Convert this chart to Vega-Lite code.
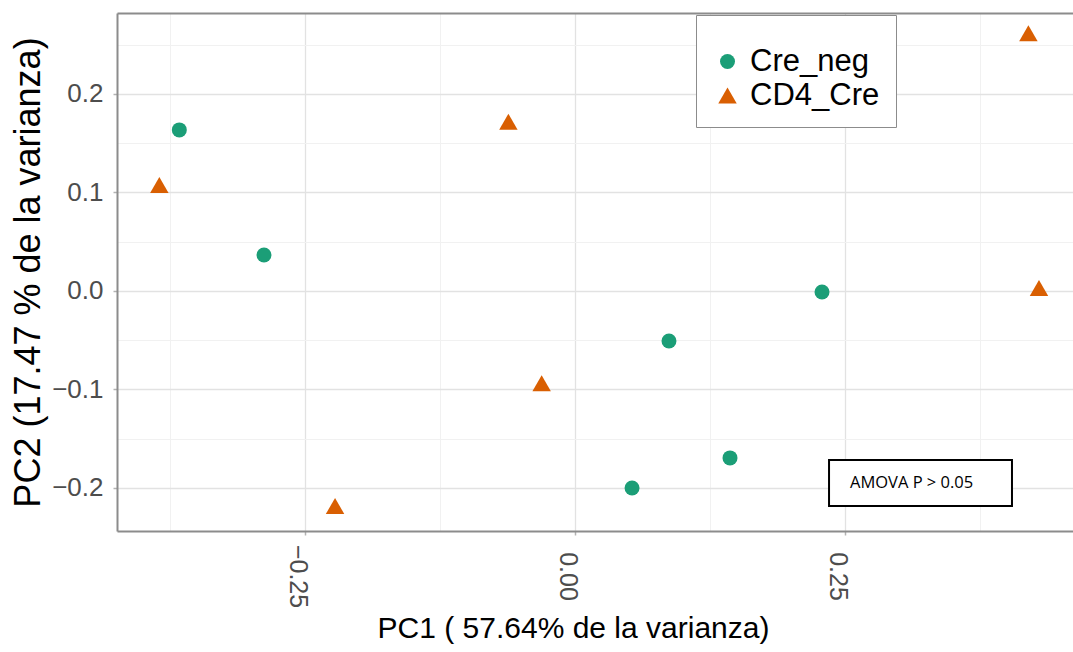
{
  "$schema": "https://vega.github.io/schema/vega-lite/v6.json",
  "width": 956,
  "height": 518,
  "autosize": {"type": "none"},
  "padding": {"left": 117, "top": 13, "right": 0, "bottom": 121},
  "background": "white",
  "config": {"view": {"stroke": null}, "font": "Liberation Sans"},
  "datasets": {
    "pts": [
      {"PC1": -0.3664, "PC2": 0.1635, "grupo": "Cre_neg"},
      {"PC1": -0.288, "PC2": 0.0365, "grupo": "Cre_neg"},
      {"PC1": 0.087, "PC2": -0.0508, "grupo": "Cre_neg"},
      {"PC1": 0.2287, "PC2": -0.001, "grupo": "Cre_neg"},
      {"PC1": 0.1435, "PC2": -0.1695, "grupo": "Cre_neg"},
      {"PC1": 0.0528, "PC2": -0.2, "grupo": "Cre_neg"},
      {"PC1": -0.3849, "PC2": 0.1076, "grupo": "CD4_Cre"},
      {"PC1": -0.2222, "PC2": -0.2183, "grupo": "CD4_Cre"},
      {"PC1": -0.0617, "PC2": 0.1719, "grupo": "CD4_Cre"},
      {"PC1": -0.0309, "PC2": -0.0937, "grupo": "CD4_Cre"},
      {"PC1": 0.4198, "PC2": 0.2616, "grupo": "CD4_Cre"},
      {"PC1": 0.4296, "PC2": 0.003, "grupo": "CD4_Cre"}
    ],
    "box": [
      {"PC1": 0.2352, "PC1_end": 0.4046, "PC2": -0.1716, "PC2_end": -0.2183}
    ],
    "note": [
      {"PC1": 0.2546, "PC2": -0.1949, "label": "AMOVA P > 0.05"}
    ]
  },
  "layer": [
    {
      "data": {"name": "pts"},
      "mark": {"type": "point", "filled": true, "opacity": 1, "strokeWidth": 0},
      "encoding": {
        "x": {
          "field": "PC1", "type": "quantitative",
          "scale": {"domain": [-0.4241, 0.4611], "nice": false, "zero": false},
          "axis": {
            "orient": "bottom",
            "values": [-0.375, -0.25, -0.125, 0, 0.125, 0.25, 0.375],
            "labelExpr": "abs(datum.value*4 - round(datum.value*4)) < 0.001 ? format(datum.value, '.2f') : ''",
            "labelAngle": 90,
            "labelAlign": "center",
            "labelBaseline": "middle",
            "labelPadding": 41,
            "labelOffset": -8,
            "labelOverlap": false,
            "labelFlush": false,
            "labelFontSize": 25,
            "labelColor": "#4D4D4D",
            "labelFont": "Liberation Sans",
            "tickSize": 4,
            "tickWidth": 1.5,
            "tickColor": "#B3B3B3",
            "tickOpacity": {"condition": {"test": "abs(datum.value*4 - round(datum.value*4)) < 0.001", "value": 1}, "value": 0},
            "grid": true,
            "gridColor": {"condition": {"test": "abs(datum.value*4 - round(datum.value*4)) < 0.001", "value": "#E2E2E2"}, "value": "#F1F1F1"},
            "gridWidth": {"condition": {"test": "abs(datum.value*4 - round(datum.value*4)) < 0.001", "value": 1.3}, "value": 1},
            "domain": true,
            "domainColor": "#8C8C8C",
            "domainWidth": 2,
            "title": "PC1 ( 57.64% de la varianza)",
            "titleFont": "Liberation Sans",
            "titleFontSize": 30,
            "titleFontWeight": "normal",
            "titleColor": "#000000",
            "titlePadding": 6,
            "titleX": 456
          }
        },
        "y": {
          "field": "PC2", "type": "quantitative",
          "scale": {"domain": [-0.2437, 0.2822], "nice": false, "zero": false},
          "axis": {
            "values": [-0.2, -0.15, -0.1, -0.05, 0, 0.05, 0.1, 0.15, 0.2, 0.25],
            "labelExpr": "abs(datum.value*10 - round(datum.value*10)) < 0.001 ? format(datum.value, '.1f') : ''",
            "labelOverlap": false,
            "labelFlush": false,
            "labelPadding": 10,
            "labelFontSize": 26,
            "labelColor": "#4D4D4D",
            "labelFont": "Liberation Sans",
            "tickSize": 4,
            "tickWidth": 1.5,
            "tickColor": "#B3B3B3",
            "tickOpacity": {"condition": {"test": "abs(datum.value*10 - round(datum.value*10)) < 0.001", "value": 1}, "value": 0},
            "grid": true,
            "gridColor": {"condition": {"test": "abs(datum.value*10 - round(datum.value*10)) < 0.001", "value": "#E2E2E2"}, "value": "#F1F1F1"},
            "gridWidth": {"condition": {"test": "abs(datum.value*10 - round(datum.value*10)) < 0.001", "value": 1.3}, "value": 1},
            "domain": true,
            "domainColor": "#8C8C8C",
            "domainWidth": 2,
            "title": "PC2 (17.47 % de la varianza)",
            "titleFont": "Liberation Sans",
            "titleFontSize": 36,
            "titleFontWeight": "normal",
            "titleColor": "#000000",
            "titlePadding": 4
          }
        },
        "color": {
          "field": "grupo", "type": "nominal",
          "scale": {"domain": ["Cre_neg", "CD4_Cre"], "range": ["#1B9E77", "#D95F02"]},
          "legend": {
            "title": " ",
            "titleFontSize": 11,
            "titlePadding": 4,
            "orient": "none",
            "legendX": 579,
            "legendY": 2,
            "direction": "vertical",
            "padding": 16,
            "rowPadding": 2,
            "labelOffset": 7,
            "labelFontSize": 31,
            "labelFont": "Liberation Sans",
            "labelColor": "#000000",
            "symbolSize": 260,
            "symbolStrokeWidth": 0,
            "strokeColor": "#8C8C8C",
            "fillColor": "white"
          }
        },
        "shape": {
          "field": "grupo", "type": "nominal",
          "scale": {"domain": ["Cre_neg", "CD4_Cre"], "range": ["circle", "triangle-up"]},
          "legend": {
            "title": " ",
            "titleFontSize": 11,
            "titlePadding": 4,
            "orient": "none",
            "legendX": 579,
            "legendY": 2,
            "direction": "vertical",
            "padding": 16,
            "rowPadding": 2,
            "labelOffset": 7,
            "labelFontSize": 31,
            "labelFont": "Liberation Sans",
            "labelColor": "#000000",
            "symbolSize": 260,
            "symbolStrokeWidth": 0,
            "strokeColor": "#8C8C8C",
            "fillColor": "white"
          }
        },
        "size": {
          "field": "grupo", "type": "nominal",
          "scale": {"domain": ["Cre_neg", "CD4_Cre"], "range": [225, 340]},
          "legend": null
        }
      }
    },
    {
      "encoding": {
        "x": {
          "field": "PC1", "type": "quantitative",
          "scale": {"domain": [-0.4241, 0.4611], "nice": false, "zero": false},
          "axis": {
            "orient": "top",
            "domain": true,
            "domainColor": "#8C8C8C",
            "domainWidth": 2,
            "ticks": false,
            "labels": false,
            "grid": false,
            "title": null
          }
        },
        "y": {
          "field": "PC2", "type": "quantitative",
          "scale": {"domain": [-0.2437, 0.2822], "nice": false, "zero": false}
        }
      },
      "layer": [
        {
          "data": {"name": "box"},
          "mark": {"type": "rect", "fill": "white", "stroke": "black", "strokeWidth": 2},
          "encoding": {
            "x2": {"field": "PC1_end"},
            "y2": {"field": "PC2_end"}
          }
        },
        {
          "data": {"name": "note"},
          "mark": {"type": "text", "align": "left", "baseline": "middle", "font": "Open Sans", "fontSize": 16.5, "color": "black"},
          "encoding": {
            "text": {"field": "label"}
          }
        }
      ]
    }
  ],
  "resolve": {"axis": {"x": "independent"}}
}
